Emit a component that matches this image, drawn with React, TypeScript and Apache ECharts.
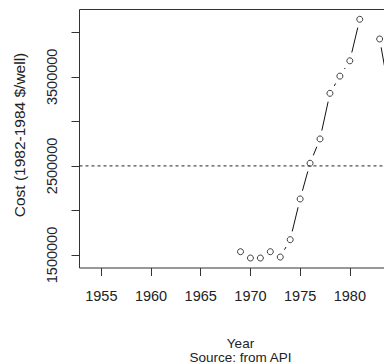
import React, { useEffect, useRef } from "react";
import * as echarts from "echarts";

const years: number[] = [
  1954, 1955, 1956, 1957, 1958, 1959, 1960, 1961, 1962, 1963, 1964, 1965, 1966, 1967, 1968,
  1969, 1970, 1971, 1972, 1973, 1974, 1975, 1976, 1977, 1978, 1979, 1980, 1981, 1982, 1983, 1984,
];
const costs: (number | null)[] = [
  null, null, null, null, null, null, null, null, null, null, null, null, null, null, null,
  1537000, 1466000, 1466000, 1537000, 1477000, 1672000, 2129000, 2530000, 2803000, 3315000,
  3508000, 3680000, 4146000, null, 3925000, 3300000,
];
const xTicks: number[] = [1955, 1960, 1965, 1970, 1975, 1980];
const yTicks: number[] = [1500000, 2000000, 2500000, 3000000, 3500000, 4000000];
const yLabels: number[] = [1500000, 2500000, 3500000];
const refLine = 2500000;
const xTitle = "Year";
const caption = "Source: from API";
const yTitle = "Cost (1982-1984 $/well)";

const FONT = "'Liberation Sans', Arial, sans-serif";
const FS = 14.5;

export default function App() {
  const ref = useRef<HTMLDivElement>(null);
  useEffect(() => {
    if (!ref.current) return;
    const chart = echarts.init(ref.current, undefined, { renderer: "svg" });

    const pts: [number, number][] = [];
    years.forEach((y, i) => {
      const c = costs[i];
      if (c !== null) pts.push([y, c]);
    });
    const segs: number[][] = [];
    for (let i = 0; i < years.length - 1; i++) {
      const a = costs[i];
      const b = costs[i + 1];
      if (a !== null && b !== null) segs.push([years[i], a, years[i + 1], b]);
    }

    const gridLeft = 79.5;
    const gridTop = 9.5;
    const gridW = 322;
    const gridH = 258.5;

    chart.setOption({
      animation: false,
      grid: {
        left: gridLeft,
        top: gridTop,
        width: gridW,
        height: gridH,
        outerBoundsMode: "none",
        containLabel: false,
        show: true,
        borderColor: "#333",
        borderWidth: 1,
        backgroundColor: "transparent",
      },
      xAxis: {
        type: "value",
        min: 1952.8,
        max: 1985.2,
        splitLine: { show: false },
        axisLine: { show: false },
        axisTick: {
          show: true,
          inside: false,
          length: 8,
          customValues: xTicks,
          lineStyle: { color: "#333", width: 1 },
        },
        axisLabel: {
          customValues: xTicks,
          margin: 20,
          fontSize: FS,
          fontFamily: FONT,
          color: "#222",
          formatter: (v: number) => String(v),
        },
      },
      yAxis: {
        type: "value",
        min: 1354000,
        max: 4256000,
        splitLine: { show: false },
        axisLine: { show: false },
        axisTick: {
          show: true,
          inside: false,
          length: 8,
          customValues: yTicks,
          lineStyle: { color: "#333", width: 1 },
        },
        axisLabel: {
          customValues: yLabels,
          rotate: 90,
          margin: 20,
          fontSize: FS,
          fontFamily: FONT,
          color: "#222",
          formatter: (v: number) => String(v),
        },
      },
      graphic: [
        {
          type: "text",
          x: 19.5,
          y: 135,
          rotation: Math.PI / 2,
          style: {
            text: yTitle,
            fontSize: 15.5,
            fontFamily: FONT,
            fill: "#222",
            align: "center",
            verticalAlign: "middle",
          },
        },
        {
          type: "text",
          x: gridLeft + gridW / 2,
          y: 343,
          style: {
            text: xTitle,
            fontSize: 13.5,
            fontFamily: FONT,
            fill: "#222",
            align: "center",
            verticalAlign: "middle",
          },
        },
        {
          type: "text",
          x: gridLeft + gridW / 2,
          y: 357.5,
          style: {
            text: caption,
            fontSize: 13.5,
            fontFamily: FONT,
            fill: "#222",
            align: "center",
            verticalAlign: "middle",
          },
        },
      ],
      series: [
        {
          type: "line",
          data: [
            [1952.8, refLine],
            [1985.2, refLine],
          ],
          symbol: "none",
          silent: true,
          lineStyle: { color: "#222", width: 1, type: [3, 3] },
        },
        {
          type: "custom",
          data: segs,
          encode: { x: [0, 2], y: [1, 3] },
          renderItem: (params: any, api: any) => {
            const p1 = api.coord([api.value(0), api.value(1)]);
            const p2 = api.coord([api.value(2), api.value(3)]);
            const dx = p2[0] - p1[0];
            const dy = p2[1] - p1[1];
            const len = Math.sqrt(dx * dx + dy * dy);
            const g = 8.5;
            if (len <= 2 * g) return { type: "group", children: [] };
            const ux = dx / len;
            const uy = dy / len;
            return {
              type: "line",
              shape: {
                x1: p1[0] + ux * g,
                y1: p1[1] + uy * g,
                x2: p2[0] - ux * g,
                y2: p2[1] - uy * g,
              },
              style: { stroke: "#111", lineWidth: 1 },
            };
          },
        },
        {
          type: "scatter",
          data: pts,
          symbol: "circle",
          symbolSize: 6,
          itemStyle: { color: "none", borderColor: "#111", borderWidth: 1 },
        },
      ],
    });
    return () => chart.dispose();
  }, []);
  return (
    <div
      ref={ref}
      style={{ position: "fixed", left: 0, top: 0, width: 384, height: 364, background: "#fff" }}
    />
  );
}
